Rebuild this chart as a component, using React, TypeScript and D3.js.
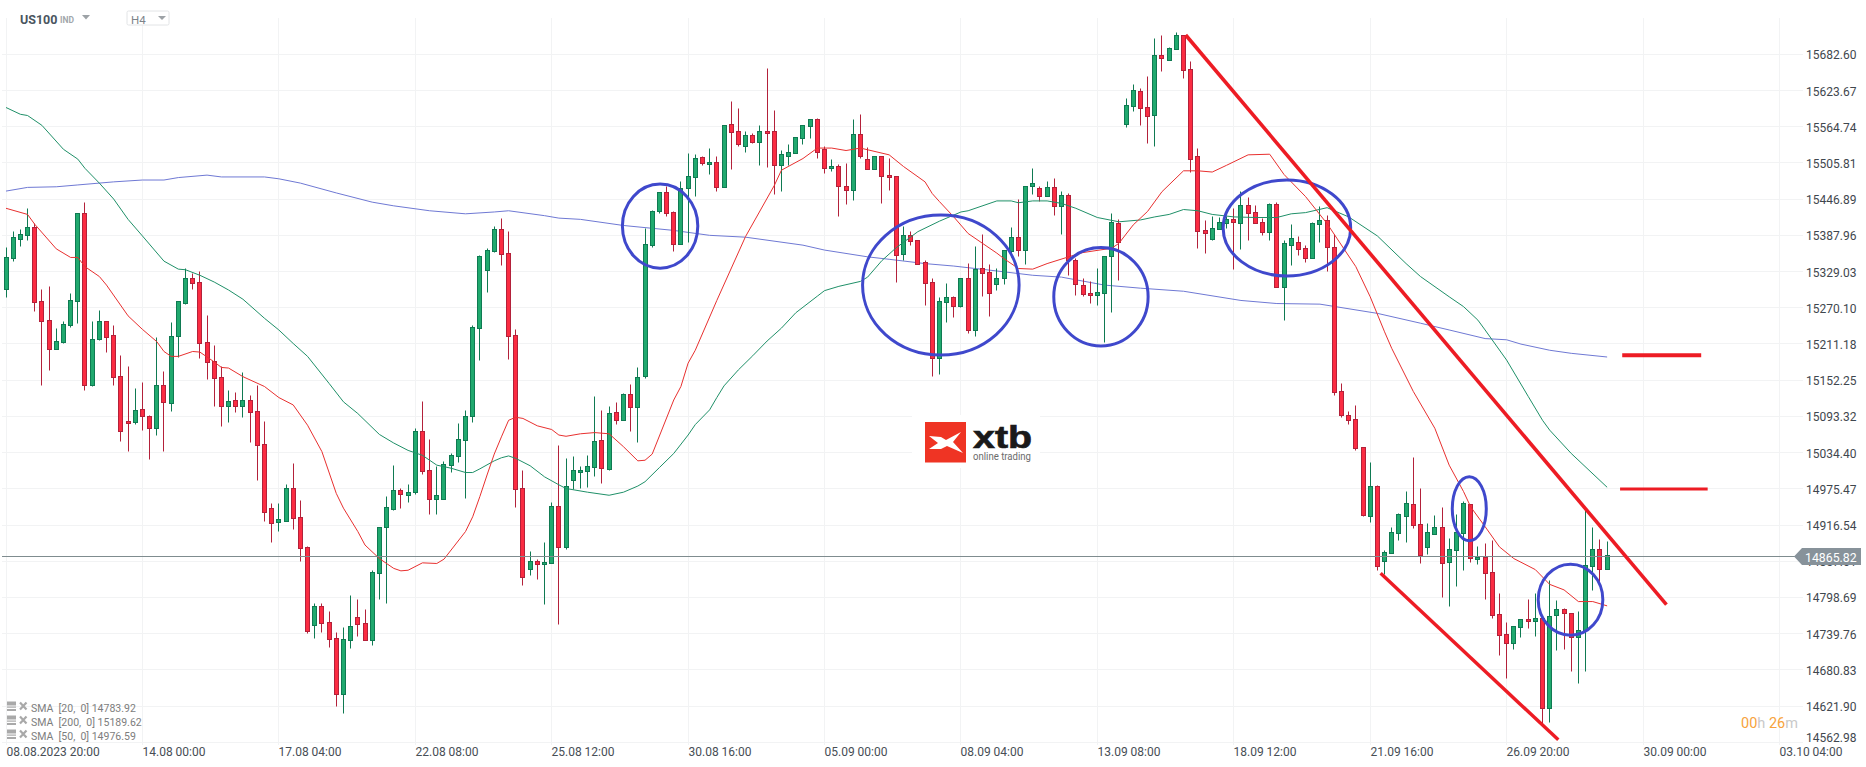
import { curveLinear, line, scaleLinear } from "d3";

const width = 1866;
const height = 767;

const opens = [
  15300, 15351, 15381, 15388, 15401, 15281, 15250, 15202, 15213, 15241,
  15280, 15424, 15144, 15218, 15248, 15225, 15159, 15085, 15084, 15105,
  15093, 15074, 15144, 15115, 15224, 15277, 15318, 15311, 15214, 15183,
  15157, 15110, 15119, 15110, 15119, 15102, 15048, 14944, 14921, 14922,
  14976, 14929, 14880, 14753, 14784, 14758, 14732, 14640, 14729, 14766,
  14757, 14729, 14838, 14913, 14942, 14973, 14965, 14970, 15069, 15006,
  14958, 14958, 15014, 15028, 15054, 15093, 15237, 15331, 15362, 15398,
  15359, 15225, 14976, 14844, 14857, 14853, 14854, 14947, 14880, 14989,
  15002, 15004, 15010, 15054, 15007, 15100, 15087, 15129, 15108, 15158,
  15372, 15427, 15458, 15425, 15373, 15465, 15482, 15515, 15504, 15507,
  15466, 15569, 15557, 15533, 15551, 15539, 15557, 15557, 15502, 15517,
  15521, 15546, 15565, 15577, 15528, 15497, 15500, 15468, 15461, 15552,
  15512, 15495, 15517, 15486, 15484, 15357, 15388, 15380, 15344, 15312,
  15188, 15279, 15287, 15272, 15318, 15233, 15334, 15328, 15308, 15318,
  15362, 15385, 15364, 15468, 15464, 15451, 15466, 15435, 15453, 15347,
  15307, 15294, 15290, 15294, 15354, 15408, 15569, 15598, 15622, 15596,
  15583, 15681, 15673, 15691, 15713, 15658, 15517, 15396, 15381, 15398,
  15408, 15414, 15408, 15437, 15425, 15409, 15393, 15438, 15303, 15372,
  15377, 15367, 15351, 15406, 15412, 15368, 15134, 15095, 15089, 15043,
  14931, 14980, 14857, 14870, 14903, 14931, 14950, 14918, 14880, 14901,
  14913, 14856, 14875, 14903, 14950, 14862, 14864, 14840, 14771, 14739,
  14724, 14750, 14763, 14760, 14765, 14618, 14770, 14779, 14773, 14734,
  14745, 14849, 14877, 14844,
];

const closes = [
  15352, 15385, 15390, 15401, 15279, 15247, 15202, 15215, 15243, 15282,
  15423, 15144, 15219, 15248, 15222, 15157, 15069, 15081, 15103, 15093,
  15074, 15144, 15116, 15224, 15281, 15318, 15309, 15212, 15181, 15155,
  15110, 15118, 15110, 15119, 15100, 15046, 14937, 14919, 14926, 14976,
  14927, 14879, 14743, 14784, 14756, 14730, 14640, 14730, 14752, 14755,
  14729, 14840, 14913, 14945, 14973, 14966, 14970, 15069, 15004, 14958,
  14965, 15015, 15030, 15056, 15093, 15238, 15354, 15364, 15398, 15357,
  15224, 14975, 14831, 14857, 14853, 14856, 14947, 14880, 14980, 15006,
  15006, 15012, 15053, 15009, 15098, 15087, 15129, 15108, 15157, 15373,
  15427, 15458, 15424, 15373, 15465, 15484, 15513, 15505, 15507, 15466,
  15567, 15556, 15536, 15551, 15539, 15557, 15554, 15502, 15520, 15523,
  15548, 15567, 15577, 15523, 15497, 15500, 15468, 15461, 15552, 15517,
  15495, 15517, 15484, 15482, 15355, 15388, 15378, 15341, 15310, 15188,
  15281, 15287, 15272, 15318, 15233, 15333, 15326, 15294, 15318, 15364,
  15385, 15364, 15468, 15473, 15451, 15466, 15435, 15453, 15347, 15308,
  15292, 15290, 15295, 15354, 15409, 15377, 15600, 15624, 15595, 15582,
  15681, 15676, 15692, 15713, 15657, 15512, 15394, 15391, 15399, 15409,
  15414, 15409, 15437, 15424, 15408, 15393, 15438, 15303, 15375, 15383,
  15365, 15351, 15408, 15412, 15368, 15132, 15095, 15087, 15041, 14932,
  14980, 14849, 14872, 14905, 14934, 14952, 14916, 14867, 14905, 14913,
  14854, 14877, 14905, 14952, 14862, 14864, 14838, 14770, 14737, 14724,
  14752, 14763, 14759, 14765, 14618, 14768, 14779, 14773, 14734, 14745,
  14851, 14877, 14844, 14867,
];

const highs = [
  15368, 15394, 15398, 15432, 15407, 15300, 15305, 15237, 15248, 15294,
  15424, 15441, 15247, 15266, 15248, 15241, 15192, 15174, 15138, 15149,
  15094, 15222, 15167, 15246, 15281, 15334, 15326, 15329, 15258, 15208,
  15174, 15135, 15133, 15165, 15128, 15144, 15085, 14952, 14951, 14982,
  15017, 14957, 14882, 14789, 14789, 14776, 14742, 14750, 14802, 14795,
  14779, 14843, 14913, 14963, 15013, 14976, 14983, 15074, 15118, 15056,
  15011, 15020, 15033, 15082, 15103, 15242, 15355, 15367, 15403, 15416,
  15395, 15234, 15006, 14874, 14861, 14888, 14953, 15046, 15025, 15028,
  15012, 15030, 15126, 15103, 15110, 15116, 15131, 15146, 15173, 15399,
  15429, 15458, 15468, 15427, 15476, 15521, 15520, 15517, 15530, 15517,
  15567, 15606, 15595, 15557, 15554, 15567, 15660, 15591, 15526, 15536,
  15548, 15567, 15577, 15578, 15533, 15512, 15504, 15505, 15577, 15585,
  15531, 15517, 15517, 15513, 15484, 15403, 15395, 15380, 15347, 15318,
  15287, 15310, 15289, 15318, 15342, 15370, 15390, 15341, 15334, 15364,
  15401, 15447, 15468, 15497, 15468, 15476, 15481, 15460, 15456, 15351,
  15318, 15313, 15334, 15354, 15424, 15414, 15611, 15634, 15627, 15647,
  15709, 15713, 15694, 15718, 15713, 15671, 15530, 15412, 15419, 15417,
  15418, 15432, 15460, 15450, 15437, 15416, 15440, 15442, 15380, 15406,
  15386, 15372, 15409, 15435, 15421, 15390, 15147, 15102, 15111, 15043,
  15019, 14981, 14875, 14913, 14936, 14971, 15027, 14976, 14919, 14932,
  14945, 14895, 14934, 14955, 14950, 14882, 14887, 14892, 14805, 14758,
  14752, 14763, 14796, 14805, 14768, 14827, 14794, 14781, 14773, 14776,
  14944, 14913, 14893, 14890,
];

const lows = [
  15287, 15345, 15370, 15379, 15264, 15144, 15168, 15202, 15212, 15238,
  15245, 15135, 15142, 15217, 15197, 15143, 15052, 15037, 15080, 15070,
  15023, 15062, 15037, 15101, 15189, 15275, 15300, 15187, 15153, 15109,
  15077, 15083, 15099, 15091, 15051, 14989, 14922, 14888, 14906, 14922,
  14910, 14857, 14740, 14732, 14741, 14718, 14621, 14610, 14716, 14735,
  14729, 14720, 14796, 14789, 14940, 14943, 14953, 14967, 14999, 14933,
  14933, 14958, 15002, 15018, 14959, 15084, 15184, 15295, 15360, 15339,
  15186, 14945, 14818, 14834, 14828, 14787, 14854, 14755, 14877, 14975,
  14976, 14977, 14995, 14984, 15006, 15080, 15087, 15069, 15051, 15155,
  15369, 15424, 15419, 15362, 15373, 15377, 15452, 15502, 15487, 15460,
  15466, 15495, 15533, 15523, 15538, 15502, 15499, 15455, 15460, 15502,
  15521, 15535, 15546, 15513, 15489, 15492, 15419, 15438, 15445, 15513,
  15495, 15495, 15440, 15461, 15312, 15347, 15372, 15341, 15274, 15158,
  15162, 15246, 15255, 15271, 15229, 15224, 15289, 15256, 15299, 15308,
  15352, 15354, 15340, 15454, 15443, 15451, 15421, 15390, 15322, 15290,
  15289, 15277, 15274, 15214, 15263, 15315, 15564, 15590, 15567, 15538,
  15533, 15655, 15673, 15691, 15644, 15491, 15367, 15359, 15380, 15397,
  15399, 15333, 15365, 15380, 15408, 15388, 15380, 15303, 15250, 15339,
  15355, 15344, 15351, 15377, 15329, 15128, 15092, 15080, 15038, 14931,
  14921, 14843, 14836, 14870, 14892, 14888, 14911, 14854, 14869, 14901,
  14799, 14784, 14817, 14843, 14856, 14853, 14796, 14765, 14705, 14667,
  14714, 14734, 14748, 14735, 14594, 14595, 14713, 14714, 14678, 14658,
  14679, 14810, 14822, 14844,
];

// moving averages, read at the candles where the line visibly bends
const sma20Index = [
  0, 3, 4, 7, 9, 10, 11, 13, 14, 17, 19, 21, 22, 23, 24, 26, 27, 29, 30, 31, 33, 36, 38, 40, 42, 44, 46, 47, 49, 50, 52,
  54, 55, 56, 58, 60, 61, 64, 65, 66, 67, 68, 69, 70, 71, 72, 74, 76, 77, 78, 80, 82, 84, 86, 88, 89, 90, 93, 94, 95, 96,
  99, 103, 107, 108, 111, 113, 115, 117, 119, 123, 125, 128, 129, 130, 132, 134, 136, 138, 139, 141, 143, 145, 148, 150,
  154, 155, 157, 159, 161, 164, 166, 168, 170, 173, 176, 178, 181, 184, 188, 190, 192, 193, 196, 199, 201, 203, 204, 206,
  208, 210, 213, 215, 217, 219, 221, 223,
];
const sma20Values = [
  15432, 15422, 15406, 15366, 15352, 15352, 15337, 15321, 15307, 15257, 15235, 15215, 15199, 15191, 15191, 15199, 15198,
  15182, 15173, 15172, 15158, 15142, 15124, 15112, 15079, 15036, 14968, 14944, 14906, 14884, 14862, 14846, 14842, 14843,
  14855, 14854, 14861, 14906, 14930, 14963, 14998, 15032, 15060, 15087, 15092, 15090, 15078, 15072, 15063, 15061, 15065,
  15067, 15065, 15044, 15021, 15022, 15032, 15120, 15142, 15180, 15201, 15282, 15386, 15469, 15494, 15513, 15530, 15530,
  15526, 15530, 15519, 15500, 15475, 15456, 15443, 15418, 15391, 15375, 15359, 15350, 15334, 15333, 15342, 15353, 15360,
  15367, 15375, 15405, 15427, 15459, 15493, 15493, 15491, 15502, 15519, 15520, 15487, 15451, 15407, 15337, 15288, 15231,
  15204, 15134, 15074, 15014, 14971, 14946, 14914, 14881, 14862, 14844, 14820, 14811, 14792, 14792, 14785,
];

const sma50Index = [
  0, 2, 3, 5, 8, 10, 11, 13, 15, 17, 19, 22, 24, 25, 27, 29, 31, 33, 36, 38, 40, 42, 45, 47, 49, 52, 54, 56, 58, 60, 62,
  64, 65, 66, 68, 69, 70, 71, 73, 75, 77, 78, 81, 84, 86, 88, 89, 91, 93, 95, 96, 98, 99, 100, 102, 104, 106, 108, 110,
  113, 114, 116, 119, 120, 122, 124, 127, 130, 133, 134, 138, 140, 141, 143, 145, 147, 149, 152, 155, 158, 160, 162, 164,
  166, 168, 171, 174, 177, 179, 181, 184, 187, 191, 195, 197, 201, 203, 205, 206, 209, 212, 214, 215, 218, 223,
];
const sma50Values = [
  15596, 15585, 15583, 15567, 15528, 15512, 15497, 15473, 15447, 15414, 15387, 15346, 15333, 15332, 15323, 15312, 15299,
  15284, 15253, 15234, 15212, 15191, 15147, 15117, 15098, 15064, 15050, 15038, 15030, 15014, 15009, 15002, 15002, 15008,
  15021, 15026, 15029, 15025, 15013, 14995, 14982, 14976, 14970, 14965, 14970, 14980, 14987, 15010, 15033, 15063, 15080,
  15104, 15124, 15143, 15169, 15192, 15216, 15237, 15262, 15289, 15298, 15305, 15313, 15320, 15347, 15368, 15394, 15411,
  15426, 15428, 15444, 15444, 15441, 15444, 15444, 15440, 15432, 15417, 15410, 15413, 15418, 15422, 15430, 15428, 15422,
  15418, 15417, 15417, 15423, 15425, 15433, 15418, 15387, 15342, 15321, 15288, 15272, 15250, 15234, 15185, 15126, 15087,
  15071, 15033, 14978,
];

const sma200Index = [
  0, 3, 7, 10, 15, 19, 22, 24, 28, 30, 36, 38, 41, 46, 51, 54, 59, 64, 68, 70, 75, 77, 80, 86, 93, 98, 103, 111, 114, 120,
  123, 128, 132, 138, 143, 147, 153, 158, 164, 172, 177, 183, 191, 197, 201, 206, 209, 211, 215, 218, 223,
];
const sma200Values = [
  15460, 15466, 15467, 15470, 15475, 15478, 15478, 15482, 15486, 15483, 15483, 15480, 15473, 15457, 15442, 15436, 15428,
  15423, 15426, 15428, 15420, 15416, 15414, 15404, 15396, 15388, 15385, 15372, 15364, 15353, 15349, 15342, 15338, 15330,
  15323, 15320, 15307, 15302, 15297, 15282, 15277, 15276, 15261, 15245, 15234, 15220, 15218, 15211, 15201, 15196, 15190,
];

const priceTicks = [
  "15682.60", "15623.67", "15564.74", "15505.81", "15446.89", "15387.96", "15329.03", "15270.10", "15211.18", "15152.25",
  "15093.32", "15034.40", "14975.47", "14916.54", "14857.61", "14798.69", "14739.76", "14680.83", "14621.90", "14562.98",
];
const timeLabels = [
  "08.08.2023  20:00", "14.08  00:00", "17.08  04:00", "22.08  08:00", "25.08  12:00", "30.08  16:00", "05.09  00:00",
  "08.09  04:00", "13.09  08:00", "18.09  12:00", "21.09  16:00", "26.09  20:00", "30.09  00:00", "03.10  04:00",
];
const candlesPerLabel = 19;
const lastPrice = 14865.82;
const legendRows = ["SMA  [20,  0] 14783.92", "SMA  [200,  0] 15189.62", "SMA  [50,  0] 14976.59"];

// hand drawn markup on the chart, in candle index and price
const circleCentres = [91.1, 130.2, 152.5, 178.4, 203.8, 217.9];
const circlePrices = [15403, 15307, 15288, 15400, 14943, 14795];
const circleWidths = [5.25, 10.9, 6.57, 8.88, 2.37, 4.5];
const circleHeights = [68.4, 113.9, 80, 78.1, 52.1, 57.8];
const trendLines = [
  { from: [164.3, 15714], to: [231.26, 14787], weight: 3.6 },
  { from: [191.45, 14838], to: [216.2, 14567], weight: 3.4 },
  { from: [225.1, 15193], to: [236.1, 15193], weight: 4 },
  { from: [224.8, 14975], to: [237, 14975], weight: 3 },
];

const x = scaleLinear()
  .domain([0, 247])
  .range([6, 6 + 7.18 * 247]);
const y = scaleLinear().domain([15682.6, 14562.98]).range([54.3, 742.3]);

const crisp = (value: number) => Math.floor(value) + 0.5;

const sma = line<number>()
  .x((index) => x(index))
  .curve(curveLinear);

const smaPath = (indexes: number[], values: number[]) =>
  sma.y((_, i) => y(values[i]))(indexes) ?? "";

const font = "Roboto, sans-serif";
const gridColor = "#f2f3f4";

export default function App() {
  const gridX = timeLabels.map((_, i) => crisp(x(i * candlesPerLabel)));
  const lastY = crisp(y(lastPrice));

  return (
    <svg
      width={width}
      height={height}
      viewBox={`0 0 ${width} ${height}`}
      style={{ display: "block", background: "#fff", fontFamily: font }}
    >
      <style>{"body{margin:0}"}</style>

      <g stroke={gridColor} strokeWidth={1}>
        {priceTicks.map((tick) => (
          <line key={tick} x1={2} x2={1803} y1={crisp(y(+tick))} y2={crisp(y(+tick))} />
        ))}
        {gridX.map((value) => (
          <line key={value} x1={value} x2={value} y1={18} y2={745} />
        ))}
      </g>

      {/* logo sits on its own white plate */}
      <rect x={912} y={415} width={128} height={53} fill="#fff" />
      <rect x={925} y={422} width={41} height={40.5} fill="#ef3424" />
      <path
        d="M929 436 L941 437 L946 440 L961 432 L953 442 L963 453 L947 446 L941 449 L929 449 L938 443 Z"
        fill="#fff"
      />
      <text
        x={973}
        y={448}
        fontFamily="'Liberation Sans', sans-serif"
        fontWeight={700}
        fontSize={32}
        textLength={59}
        lengthAdjust="spacingAndGlyphs"
        fill="#1a1a1a"
        stroke="#1a1a1a"
        strokeWidth={0.7}
      >
        xtb
      </text>
      <text x={973} y={460} fontSize={11} textLength={58} lengthAdjust="spacingAndGlyphs" fill="#6b6b6b">
        online trading
      </text>

      <path d={smaPath(sma200Index, sma200Values)} fill="none" stroke="#6f79d4" strokeWidth={1} />

      <g>
        {opens.map((open, i) => {
          const close = closes[i];
          const up = close >= open;
          const cx = crisp(x(i));
          const top = crisp(y(Math.max(open, close)));
          const bottom = crisp(y(Math.min(open, close)));
          const edge = up ? "#0f7a52" : "#b3213a";
          return (
            <g key={i}>
              <line x1={cx} x2={cx} y1={crisp(y(highs[i]))} y2={crisp(y(lows[i]))} stroke={edge} strokeWidth={1} />
              <rect
                x={cx - 2}
                y={top}
                width={4}
                height={Math.max(bottom - top, 2)}
                fill={up ? "#20a96e" : "#fb2c42"}
                stroke={edge}
                strokeWidth={1}
              />
            </g>
          );
        })}
      </g>

      <path d={smaPath(sma50Index, sma50Values)} fill="none" stroke="#1f9068" strokeWidth={1} />
      <path d={smaPath(sma20Index, sma20Values)} fill="none" stroke="#e8302f" strokeWidth={1} />

      <line x1={2} x2={1796} y1={lastY} y2={lastY} stroke="#7f8c8f" strokeWidth={1} />

      <g fill="none" stroke="#3f48cc" strokeWidth={3}>
        {circleCentres.map((centre, i) => (
          <ellipse
            key={centre}
            cx={x(centre)}
            cy={y(circlePrices[i])}
            rx={x(centre + circleWidths[i]) - x(centre)}
            ry={y(circlePrices[i] - circleHeights[i]) - y(circlePrices[i])}
          />
        ))}
      </g>

      <g stroke="#ed1c24">
        {trendLines.map((trend) => (
          <line
            key={trend.from[0]}
            x1={x(trend.from[0])}
            y1={y(trend.from[1])}
            x2={x(trend.to[0])}
            y2={y(trend.to[1])}
            strokeWidth={trend.weight}
          />
        ))}
      </g>

      {/* price axis */}
      <g fontSize={12} fill="#3f474e">
        {priceTicks.map((tick, i) => (
          <text key={tick} x={1806} y={y(+tick) + (i === priceTicks.length - 1 ? 0 : 5)}>
            {tick}
          </text>
        ))}
      </g>
      <path d={`M1794 ${lastY} L1802 548 L1861 548 L1861 565 L1802 565 Z`} fill="#87929a" />
      <text x={1805} y={562} fontSize={12.3} fill="#fff">
        {lastPrice.toFixed(2)}
      </text>

      {/* time axis */}
      <g fontSize={12} fill="#474e55" style={{ whiteSpace: "pre" }}>
        {timeLabels.map((label, i) => (
          <text key={label} x={gridX[i]} y={755.5}>
            {label}
          </text>
        ))}
      </g>

      {/* header controls */}
      <text x={20} y={23.5} fontSize={12.5} fontWeight={700} fill="#4a5560">
        US100
      </text>
      <text x={60} y={23} fontSize={8.5} fontWeight={700} fill="#a2a7ab">
        IND
      </text>
      <path d="M82 15 L90 15 L86 19.5 Z" fill="#9da2a6" />
      <rect x={127} y={11} width={42} height={14} rx={1.5} fill="#fff" stroke="#e2e4e6" />
      <text x={131} y={24} fontSize={11.5} fill="#7d848a">
        H4
      </text>
      <path d="M158 16 L166 16 L162 20 Z" fill="#9da2a6" />

      {/* indicator legend */}
      {legendRows.map((row, i) => {
        const rowY = 707.5 + i * 14;
        return (
          <g key={row}>
            <g fill="#a9a9a9">
              <rect x={7} y={rowY - 6} width={9} height={4} />
              <rect x={7} y={rowY - 1} width={9} height={1.2} />
              <rect x={7} y={rowY + 1.5} width={9} height={2} />
            </g>
            <path
              d={`M20 ${rowY - 5} L26.5 ${rowY + 2} M26.5 ${rowY - 5} L20 ${rowY + 2}`}
              stroke="#a9a9a9"
              strokeWidth={2.2}
            />
            <text x={31} y={rowY + 4} fontSize={10.5} fill="#7d7d7d" style={{ whiteSpace: "pre" }}>
              {row}
            </text>
          </g>
        );
      })}

      {/* candle countdown */}
      <text x={1741} y={728} fontSize={14.5}>
        <tspan fill="#f7a33b">00</tspan>
        <tspan fill="#c9c9c9">h </tspan>
        <tspan fill="#f7a33b">26</tspan>
        <tspan fill="#c9c9c9">m</tspan>
      </text>
    </svg>
  );
}
